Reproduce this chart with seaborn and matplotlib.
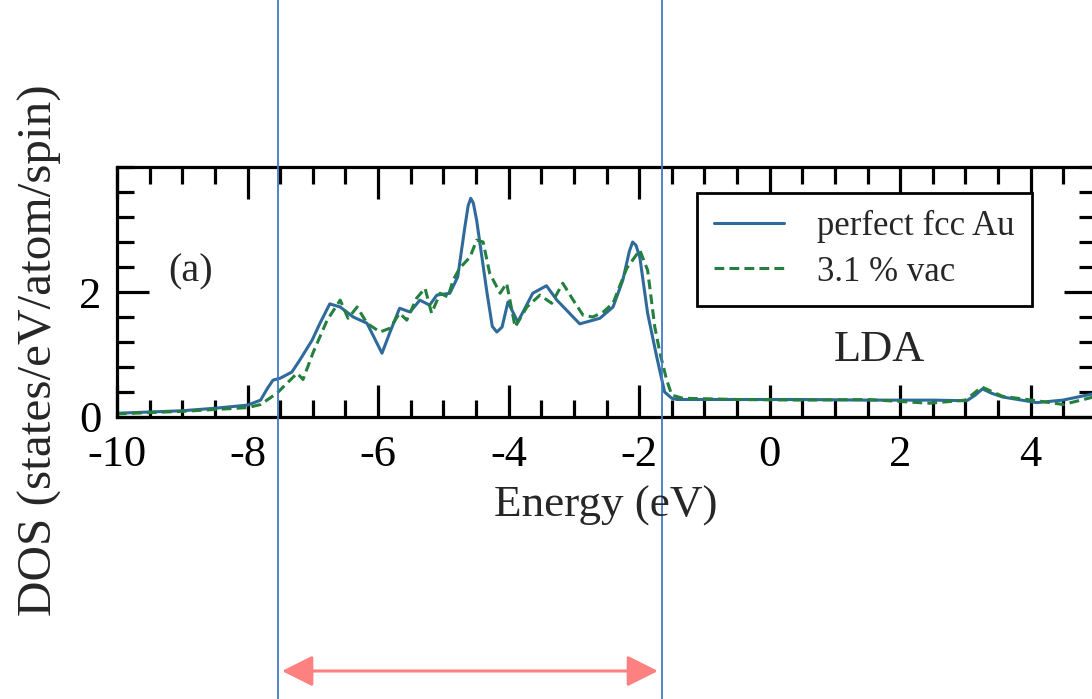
import numpy as np
import pandas as pd
import matplotlib
matplotlib.use("Agg")
import matplotlib.pyplot as plt
from matplotlib.lines import Line2D
from matplotlib.ticker import MultipleLocator, FixedLocator
import seaborn as sns

# ---- data ----
energy_perfect = [-10.0, -9.0, -8.5, -8.0, -7.8, -7.7, -7.61, -7.5, -7.32, -7.2, -7.01, -6.89, -6.74,
                  -6.58, -6.38, -6.17, -6.05, -5.94, -5.82, -5.67, -5.51, -5.36, -5.21, -5.1, -4.9,
                  -4.78, -4.67, -4.62, -4.58, -4.54, -4.49, -4.33, -4.25, -4.18, -4.1, -4.01, -3.86,
                  -3.63, -3.42, -3.26, -2.91, -2.6, -2.4, -2.25, -2.15, -2.1, -2.05, -1.99, -1.87,
                  -1.73, -1.61, -1.5, -1.42, -0.5, 0.5, 1.5, 2.5, 3.02, 3.15, 3.26, 3.4, 3.57,
                  4.09, 4.49, 5.0]
dos_perfect = [0.06, 0.10, 0.14, 0.19, 0.27, 0.45, 0.59, 0.62, 0.72, 0.91, 1.23, 1.50, 1.81,
               1.76, 1.60, 1.50, 1.25, 1.02, 1.35, 1.74, 1.68, 1.87, 1.79, 1.95, 1.98,
               2.24, 3.04, 3.38, 3.50, 3.42, 3.15, 1.98, 1.45, 1.36, 1.44, 1.84, 1.52,
               1.98, 2.10, 1.87, 1.49, 1.58, 1.76, 2.19, 2.65, 2.80, 2.75, 2.56, 1.66,
               0.96, 0.40, 0.30, 0.28, 0.28, 0.28, 0.27, 0.27, 0.26, 0.35, 0.45, 0.38, 0.32,
               0.23, 0.27, 0.38]

energy_vac = [-10.0, -9.0, -8.0, -7.8, -7.55, -7.24, -7.15, -7.0, -6.78, -6.58, -6.46, -6.32,
              -6.17, -5.97, -5.82, -5.67, -5.56, -5.41, -5.28, -5.18, -5.05, -4.93, -4.85,
              -4.75, -4.59, -4.49, -4.39, -4.29, -4.13, -4.03, -3.9, -3.72, -3.52, -3.34,
              -3.17, -3.01, -2.86, -2.71, -2.55, -2.4, -2.19, -1.99, -1.87, -1.76, -1.68,
              -1.58, -1.5, -1.33, -0.5, 0.5, 1.5, 2.45, 3.0, 3.25, 3.57, 4.09, 4.5, 5.0]
dos_vac = [0.05, 0.09, 0.15, 0.20, 0.38, 0.70, 0.60, 1.02, 1.55, 1.87, 1.58, 1.76,
           1.50, 1.36, 1.42, 1.66, 1.55, 1.90, 2.06, 1.66, 1.98, 1.92, 2.19,
           2.38, 2.56, 2.83, 2.80, 2.30, 1.98, 2.14, 1.44, 1.76, 1.95, 1.82,
           2.14, 1.87, 1.63, 1.60, 1.68, 1.82, 2.38, 2.67, 2.35, 1.44, 1.02,
           0.60, 0.35, 0.30, 0.28, 0.27, 0.28, 0.22, 0.27, 0.48, 0.33, 0.26, 0.20, 0.33]

series_labels = ["perfect fcc Au", "3.1 % vac"]
x_ticks = [-10, -8, -6, -4, -2, 0, 2, 4]
y_ticks = [0, 2]

df = pd.concat([
    pd.DataFrame({"Energy": energy_perfect, "DOS": dos_perfect, "series": series_labels[0]}),
    pd.DataFrame({"Energy": energy_vac, "DOS": dos_vac, "series": series_labels[1]}),
])

sns.set_style("ticks")
plt.rcParams["font.family"] = ["Liberation Serif", "DejaVu Serif"]

W, H = 1092, 699
fig = plt.figure(figsize=(W / 100, H / 100), dpi=100)
fig.patch.set_facecolor("white")
ax = fig.add_axes([117 / W, 1 - 417 / H, (1096 - 117) / W, (417 - 167) / H])

blue = "#2f6a9c"
green = "#23803f"
lw = 2.2
dash = (3.2, 1.7)
sns.lineplot(data=df, x="Energy", y="DOS", hue="series", style="series",
             palette={series_labels[0]: blue, series_labels[1]: green},
             dashes={series_labels[0]: "", series_labels[1]: dash},
             linewidth=lw, sort=False, ax=ax, legend=False)

ax.set_xlim(-10, 5)
ax.set_ylim(0, 4)
ax.xaxis.set_major_locator(FixedLocator(x_ticks))
ax.xaxis.set_minor_locator(MultipleLocator(0.5))
ax.yaxis.set_major_locator(FixedLocator(y_ticks))
ax.yaxis.set_minor_locator(MultipleLocator(0.4))
ax.set_xticklabels([str(t) for t in x_ticks])
ax.set_yticklabels([str(t) for t in y_ticks])
ax.tick_params(which="both", direction="in", top=True, right=True, width=2.3, colors="black",
               labelsize=32)
ax.tick_params(which="major", length=23)
ax.tick_params(axis="x", which="major", pad=13)
ax.tick_params(which="minor", length=12)
ax.tick_params(axis="y", which="major", pad=11)
for s in ax.spines.values():
    s.set_linewidth(2.3)
    s.set_color("black")
    s.set_visible(True)
ax.set_xlabel("")
ax.set_ylabel("")

# labels
fig.text(606 / W, 1 - 517 / H, "Energy (eV)", fontsize=32.5, ha="center", va="baseline")
fig.text(40 / W, 1 - 350 / H, "DOS (states/eV/atom/spin)", fontsize=35.5, rotation=90,
         ha="center", va="center")
ax.text(-8.88, 2.32, "(a)", fontsize=29, ha="center", va="center")
ax.text(1.68, 1.07, "LDA", fontsize=32, ha="center", va="center")

# legend
handles = [Line2D([], [], color=blue, lw=lw),
           Line2D([], [], color=green, lw=lw, dashes=dash)]
leg = ax.legend(handles, series_labels, loc="upper left",
                bbox_to_anchor=((697 - 117) / 979, (417 - 193) / 250),
                borderaxespad=0, fontsize=25, handlelength=2.0, handletextpad=0.95,
                labelspacing=0.35, borderpad=0.5, fancybox=False, framealpha=1,
                edgecolor="black")
leg.get_frame().set_linewidth(2.0)

# vertical guide lines spanning the figure
for xp in (278, 662):
    fig.add_artist(Line2D([xp / W, xp / W], [0, 1], transform=fig.transFigure,
                          color="#4079c8", lw=1.3))

# red double arrow
ax.annotate("", xy=(658 / W, 1 - 671 / H), xytext=(282 / W, 1 - 671 / H),
            xycoords="figure fraction", textcoords="figure fraction",
            arrowprops=dict(arrowstyle="<|-|>,head_length=1.0,head_width=0.5",
                            mutation_scale=19, color="#ff8080", lw=2.2,
                            shrinkA=0, shrinkB=0), annotation_clip=False)

fig.savefig("out.png", dpi=100)
